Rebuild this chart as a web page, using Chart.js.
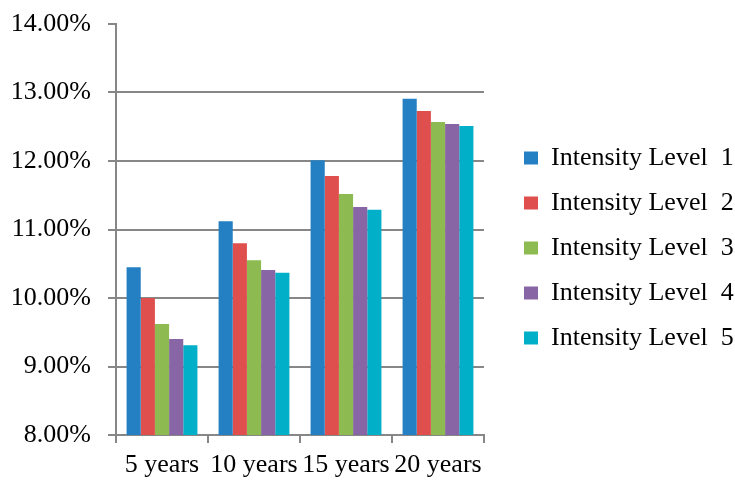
<!DOCTYPE html>
<html>
<head>
<meta charset="utf-8">
<script src="https://cdn.jsdelivr.net/npm/chart.js@4/dist/chart.umd.min.js"></script>
<style>
  html, body { margin: 0; padding: 0; background: #ffffff; }
  #wrap { width: 735px; height: 482px; }
</style>
</head>
<body>
<div id="wrap"><canvas id="c" width="735" height="482"></canvas></div>
<script>
// Horizon categories
const periods = ['5 years', '10 years', '15 years', '20 years'];

// Returns (%) per intensity level
const level1 = [10.45, 11.12, 12.01, 12.91];
const level2 = [10.00, 10.80, 11.78, 12.73];
const level3 = [9.62, 10.55, 11.52, 12.57];
const level4 = [9.40, 10.41, 11.33, 12.54];
const level5 = [9.31, 10.37, 11.29, 12.51];

const seriesNames = ['Intensity Level  1', 'Intensity Level  2', 'Intensity Level  3', 'Intensity Level  4', 'Intensity Level  5'];
const seriesColors = ['#2580c3', '#de4f4d', '#8dba51', '#8865a4', '#02afc9'];
const seriesValues = [level1, level2, level3, level4, level5];

const FONT = "'Liberation Serif', 'Times New Roman', serif";
const FONT_SIZE = 26;
const GRID = '#878787';

// legend geometry
const LEGEND_PAD = 19;
const LEGEND_BOX = 14;
const LEGEND_X = 524;          // left edge of the colour swatches
const PLOT_RIGHT = 484;        // right edge of the plotting area
const LEGEND_W = 735 - (LEGEND_X - LEGEND_PAD);

new Chart(document.getElementById('c'), {
  type: 'bar',
  data: {
    labels: periods,
    datasets: seriesValues.map((vals, i) => ({
      label: seriesNames[i],
      data: vals,
      backgroundColor: seriesColors[i],
      borderWidth: 0,
      categoryPercentage: 0.77,
      barPercentage: 1.0
    }))
  },
  options: {
    responsive: false,
    animation: false,
    devicePixelRatio: 1,
    layout: { padding: { top: 24, right: 0, bottom: 0, left: 0 } },
    plugins: {
      tooltip: { enabled: false },
      legend: {
        position: 'right',
        align: 'center',
        fullSize: false,
        maxWidth: LEGEND_W,
        // blank title only pushes the legend items down a little
        title: { display: true, text: ' ', padding: { top: 6, bottom: 7 }, font: { family: FONT, size: 20 } },
        labels: {
          font: { family: FONT, size: FONT_SIZE },
          color: '#000000',
          boxWidth: LEGEND_BOX,
          boxHeight: 13,
          padding: LEGEND_PAD
        }
      }
    },
    scales: {
      x: {
        offset: true,
        grid: {
          display: true,
          offset: true,
          drawOnChartArea: false,
          drawTicks: true,
          tickLength: 8,
          color: GRID,
          lineWidth: 2
        },
        border: { display: true, color: GRID, width: 2 },
        ticks: {
          font: { family: FONT, size: FONT_SIZE },
          color: '#000000',
          padding: 7,
          maxRotation: 0,
          autoSkip: false
        },
        afterFit: (s) => { s.height = 47; }
      },
      y: {
        min: 8,
        max: 14,
        grid: {
          color: (ctx) => (ctx.tick && ctx.tick.value === 14 ? 'rgba(0,0,0,0)' : GRID),
          tickColor: GRID,
          lineWidth: 2,
          drawTicks: true,
          tickLength: 8
        },
        border: { display: true, color: GRID, width: 2 },
        ticks: {
          stepSize: 1,
          font: { family: FONT, size: FONT_SIZE },
          color: '#000000',
          padding: 17,
          callback: (v) => Number(v).toFixed(2) + '%'
        },
        afterFit: (s) => {
          s.width = 116;
          s.paddingTop = 0;
          s.paddingBottom = 0;
        }
      },
      gap: {
        type: 'linear',
        position: 'right',
        display: true,
        grid: { display: false },
        border: { display: false },
        ticks: { display: false },
        afterFit: (s) => { s.width = LEGEND_X - LEGEND_PAD - PLOT_RIGHT; }
      }
    }
  }
});
</script>
</body>
</html>
